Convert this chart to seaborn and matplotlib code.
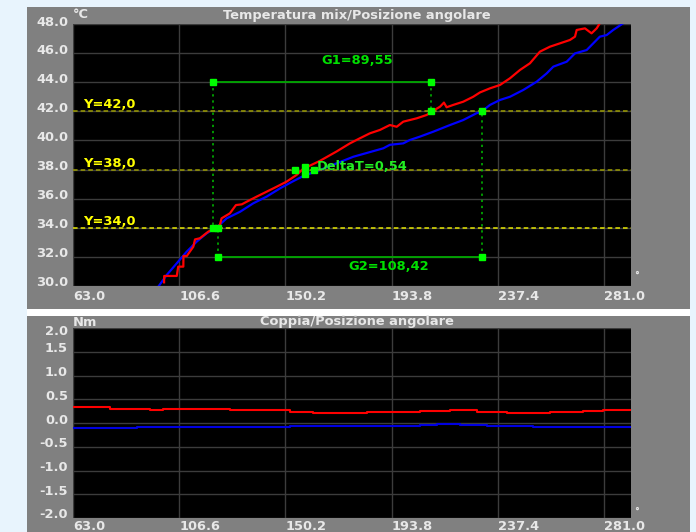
import matplotlib
matplotlib.use("Agg")
import matplotlib.pyplot as plt
import matplotlib.transforms as mtransforms
from matplotlib.patches import Rectangle
import pandas as pd
import seaborn as sns

# ---------------- data ----------------
x_ticks = [63.0, 106.6, 150.2, 193.8, 237.4, 281.0]
x_tick_labels = ["63.0", "106.6", "150.2", "193.8", "237.4", "281.0"]
temp_ticks = [30.0, 32.0, 34.0, 36.0, 38.0, 40.0, 42.0, 44.0, 46.0, 48.0]
temp_tick_labels = ["30.0", "32.0", "34.0", "36.0", "38.0", "40.0", "42.0", "44.0", "46.0", "48.0"]
torque_ticks = [-2.0, -1.5, -1.0, -0.5, 0.0, 0.5, 1.0, 1.5, 2.0]
torque_tick_labels = ["-2.0", "-1.5", "-1.0", "-0.5", "0.0", "0.5", "1.0", "1.5", "2.0"]

red_temp_x = [100.4, 100.45, 105.6, 106.2, 108.3, 108.35, 109.7, 112.4, 113.1, 115.1, 118.5, 121.0,
              123.3, 124.0, 127.4, 129.9, 132.3, 134.3, 138.4, 142.5, 146.6, 150.7, 154.8, 157.5,
              164.4, 171.3, 176.7, 180.8, 184.9, 189.0, 193.1, 195.9, 198.6, 204.1, 208.2, 210.3,
              213.7, 215.3, 216.4, 219.1, 223.2, 227.3, 230.1, 234.2, 238.3, 242.4, 246.5, 250.6,
              254.7, 258.8, 262.9, 267.0, 269.1, 269.8, 273.2, 275.9, 278.0, 279.3]
red_temp_y = [30.25, 30.69, 30.69, 31.33, 31.33, 32.06, 32.06, 32.70, 33.20, 33.28, 33.73, 33.95,
              34.19, 34.65, 34.99, 35.56, 35.61, 35.79, 36.14, 36.48, 36.82, 37.17, 37.63, 38.05,
              38.60, 39.25, 39.80, 40.15, 40.49, 40.72, 41.06, 40.94, 41.29, 41.52, 41.75, 41.98,
              42.32, 42.60, 42.28, 42.44, 42.66, 43.00, 43.30, 43.58, 43.81, 44.27, 44.84, 45.30,
              46.10, 46.44, 46.67, 46.90, 47.13, 47.59, 47.70, 47.36, 47.70, 48.05]

blue_temp_x = [98.0, 101.5, 105.6, 109.7, 113.8, 117.9, 122.0, 126.1, 131.6, 137.0, 142.5, 148.0,
               153.4, 157.5, 164.4, 171.3, 178.1, 184.9, 190.4, 193.1, 198.6, 201.3, 205.4, 210.9,
               217.8, 223.2, 228.7, 230.9, 234.2, 238.3, 242.4, 247.9, 253.4, 257.5, 260.2, 265.7,
               269.1, 273.9, 276.6, 279.3, 282.1, 284.8, 288.9]
blue_temp_y = [29.95, 30.76, 31.56, 32.36, 33.05, 33.62, 34.03, 34.65, 35.10, 35.68, 36.14, 36.71,
               37.20, 37.55, 37.97, 38.43, 38.88, 39.20, 39.46, 39.70, 39.80, 40.03, 40.26, 40.60,
               41.06, 41.40, 41.87, 42.00, 42.44, 42.78, 43.00, 43.47, 44.04, 44.61, 45.07, 45.41,
               45.98, 46.21, 46.67, 47.13, 47.24, 47.59, 48.05]

red_torque_x = [63.0, 78.2, 94.6, 99.9, 106.9, 127.5, 152.1, 161.5, 183.7, 205.5, 217.8, 228.9,
                237.1, 241.2, 258.8, 272.4, 280.6, 292.1]
red_torque_y = [0.340, 0.295, 0.274, 0.300, 0.290, 0.267, 0.238, 0.218, 0.232, 0.253, 0.274, 0.238,
                0.225, 0.218, 0.232, 0.253, 0.274, 0.274]
blue_torque_x = [63.0, 82.3, 89.3, 115.1, 152.1, 161.5, 184.9, 205.5, 212.4, 221.9, 233.0, 251.8,
                 264.2, 280.6, 292.1]
blue_torque_y = [-0.112, -0.100, -0.084, -0.077, -0.070, -0.056, -0.063, -0.042, -0.021, -0.042,
                 -0.063, -0.077, -0.091, -0.077, -0.077]

y_cursors = [42.0, 38.0, 34.0]
y_cursor_labels = ["Y=42,0", "Y=38,0", "Y=34,0"]
y_cursor_colors = ["#9C9C00", "#9C9C00", "#E6E600"]
g1_x = [120.3, 209.85]
g1_level = 44.0
g1_label = "G1=89,55"
g2_x = [122.5, 230.92]
g2_level = 32.0
g2_label = "G2=108,42"
delta_x = [154.1, 158.2, 161.9]
delta_label = "DeltaT=0,54"

# ---------------- figure ----------------
W, H = 696, 532
fig = plt.figure(figsize=(W / 100, H / 100), dpi=100)
fig.patch.set_facecolor("#E8F4FD")

def fx(px):
    return px / W

def fy(py):
    return 1 - py / H

# panels (behind the axes)
fig.patches.append(Rectangle((fx(27), fy(309)), fx(690) - fx(27), fy(7) - fy(309),
                             transform=fig.transFigure, facecolor="#808080", edgecolor="none", zorder=-5))
fig.patches.append(Rectangle((fx(27), fy(316)), fx(690) - fx(27), fy(309) - fy(316),
                             transform=fig.transFigure, facecolor="#FFFFFF", edgecolor="none", zorder=-5))
fig.patches.append(Rectangle((fx(27), 0), fx(690) - fx(27), fy(316),
                             transform=fig.transFigure, facecolor="#808080", edgecolor="none", zorder=-5))

ax1 = fig.add_axes([fx(73), fy(286), fx(631) - fx(73), fy(24) - fy(286)])
ax2 = fig.add_axes([fx(73), fy(518), fx(631) - fx(73), fy(328) - fy(518)])

XLIM = (63.0, 292.1)
TXT = "#E8E8E8"
FONT = dict(family="DejaVu Sans", weight="bold")
FS = 9.4

# curves
df_rt = pd.DataFrame({"ang": red_temp_x, "T": red_temp_y})
df_bt = pd.DataFrame({"ang": blue_temp_x, "T": blue_temp_y})
sns.lineplot(data=df_bt, x="ang", y="T", ax=ax1, color="#0000FF", linewidth=1.6,
             estimator=None, legend=False, zorder=3)
sns.lineplot(data=df_rt, x="ang", y="T", ax=ax1, color="#FF0000", linewidth=1.6,
             estimator=None, legend=False, zorder=3)

df_rq = pd.DataFrame({"ang": red_torque_x, "Nm": red_torque_y})
df_bq = pd.DataFrame({"ang": blue_torque_x, "Nm": blue_torque_y})
sns.lineplot(data=df_rq, x="ang", y="Nm", ax=ax2, color="#FF0000", linewidth=1.5,
             estimator=None, legend=False, drawstyle="steps-post", zorder=3)
sns.lineplot(data=df_bq, x="ang", y="Nm", ax=ax2, color="#0000E0", linewidth=1.5,
             estimator=None, legend=False, drawstyle="steps-post", zorder=3)

for ax in (ax1, ax2):
    ax.set_facecolor("black")
    ax.set_xlim(*XLIM)
    ax.set_xticks(x_ticks)
    ax.set_xticklabels([])
    ax.tick_params(length=0, labelleft=False, labelbottom=False)
    for s in ax.spines.values():
        s.set_visible(False)
    ax.grid(True, color="#3C3C3C", linewidth=1.0)
    ax.set_axisbelow(True)
    ax.set_xlabel("")
    ax.set_ylabel("")

ax1.set_ylim(30, 48)
ax1.set_yticks(temp_ticks)
ax1.set_yticklabels([])
ax2.set_ylim(-2, 2)
ax2.set_yticks(torque_ticks)
ax2.set_yticklabels([])

# cursors on top chart
for lvl, lab, col in zip(y_cursors, y_cursor_labels, y_cursor_colors):
    ax1.axhline(lvl, color=col, linewidth=1.1, linestyle=(0, (3, 2)), zorder=4)
    ax1.text(67.1, lvl + 0.45, lab, color="#FFFF00", fontsize=FS, va="center", ha="left", zorder=6, **FONT)

GL = "#00A800"
ax1.plot(g1_x, [g1_level, g1_level], color=GL, linewidth=1.3, zorder=4)
ax1.plot(g2_x, [g2_level, g2_level], color=GL, linewidth=1.3, zorder=4)
dot = (0, (1.5, 2.5))
ax1.plot([g1_x[0], g1_x[0]], [g1_level, 34.0], color="#00C000", linewidth=1.1, linestyle=dot, zorder=4)
ax1.plot([g1_x[1], g1_x[1]], [g1_level, 42.0], color="#00C000", linewidth=1.1, linestyle=dot, zorder=4)
ax1.plot([g2_x[0], g2_x[0]], [g2_level, 34.0], color="#00C000", linewidth=1.1, linestyle=dot, zorder=4)
ax1.plot([g2_x[1], g2_x[1]], [g2_level, 42.0], color="#00C000", linewidth=1.1, linestyle=dot, zorder=4)

MK = dict(marker="s", color="#00FF00", markersize=4.5, linestyle="none", zorder=7)
ax1.plot(g1_x, [g1_level, g1_level], **MK)
ax1.plot(g2_x, [g2_level, g2_level], **MK)
ax1.plot(g1_x, [34.0, 42.0], **MK)
ax1.plot(g2_x, [34.0, 42.0], **MK)
ax1.plot([delta_x[0], delta_x[2]], [38.0, 38.0], **MK)
ax1.plot([delta_x[1], delta_x[1]], [37.72, 38.17], **MK)

ax1.text(179.6, 45.46, g1_label, color="#00E000", fontsize=FS, ha="center", va="center", zorder=6, **FONT)
ax1.text(192.7, 31.37, g2_label, color="#00E000", fontsize=FS, ha="center", va="center", zorder=6, **FONT)
ax1.text(163.2, 38.18, delta_label, color="#22EE22", fontsize=FS, ha="left", va="center", zorder=6, **FONT)

# tick labels as text
def ylabels(ax, ticks, labels, offsets):
    for t, lab, off in zip(ticks, labels, offsets):
        tr = mtransforms.offset_copy(mtransforms.blended_transform_factory(ax.transAxes, ax.transData),
                                     fig=fig, x=-5, y=off, units="dots")
        ax.text(0, t, lab, transform=tr, ha="right", va="center", color=TXT, fontsize=FS,
                clip_on=False, **FONT)

ylabels(ax1, temp_ticks, temp_tick_labels, [3, 3, 3, 3, 3, 3, 3, 3, 3, 1])
ylabels(ax2, torque_ticks, torque_tick_labels, [3, 3, 3, 3, 3, 3, 3, 3, -4])

def xlabels(ax, drop):
    for t, lab in zip(x_ticks, x_tick_labels):
        tr = mtransforms.offset_copy(mtransforms.blended_transform_factory(ax.transData, ax.transAxes),
                                     fig=fig, x=0, y=-drop, units="dots")
        ax.text(t, 0, lab, transform=tr, ha="left", va="center", color=TXT, fontsize=FS,
                clip_on=False, **FONT)

xlabels(ax1, 11)
xlabels(ax2, 9)

# panel titles and units
fig.text(fx(357), fy(15), "Temperatura mix/Posizione angolare", ha="center", va="center",
         color=TXT, fontsize=FS, **FONT)
fig.text(fx(73), fy(15), "°C", ha="left", va="center", color=TXT, fontsize=FS, **FONT)
fig.text(fx(357), fy(322), "Coppia/Posizione angolare", ha="center", va="center",
         color=TXT, fontsize=FS, **FONT)
fig.text(fx(73), fy(322), "Nm", ha="left", va="center", color=TXT, fontsize=FS, **FONT)
fig.text(fx(634), fy(276), "°", ha="left", va="center", color=TXT, fontsize=7, **FONT)
fig.text(fx(634), fy(512), "°", ha="left", va="center", color=TXT, fontsize=7, **FONT)

fig.savefig("out.png", dpi=100, facecolor=fig.get_facecolor())
